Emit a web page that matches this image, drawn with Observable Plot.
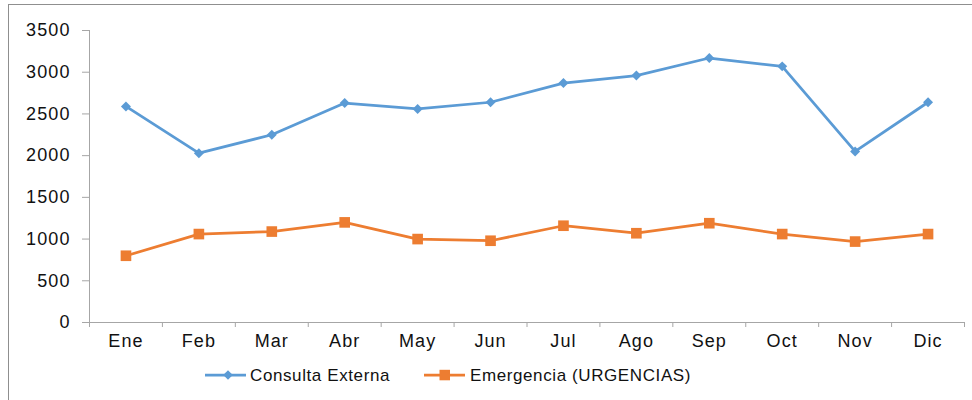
<!DOCTYPE html>
<html><head><meta charset="utf-8">
<script src="https://cdn.jsdelivr.net/npm/d3@7"></script>
<script src="https://cdn.jsdelivr.net/npm/@observablehq/plot@0.6"></script>
<style>
body{margin:0;background:#fff;font-family:"Liberation Sans",Arial,sans-serif;}
#wrap{position:relative;width:972px;height:400px;overflow:hidden;background:#fff;}
#frame{position:absolute;left:8px;top:4px;width:990px;height:420px;border-top:1.5px solid #8f8f8f;border-left:1.5px solid #8f8f8f;}
#chart{position:absolute;left:0;top:0;}
.lg{position:absolute;top:366px;font-size:17px;line-height:19px;letter-spacing:0.6px;color:#111;white-space:nowrap;}
.sw{position:absolute;top:368px;}
</style>
</head><body>
<div id="wrap"><div id="frame"></div><div id="chart"></div>
<svg class="sw" style="left:205px" width="42" height="14"><line x1="0" y1="7" x2="41" y2="7" stroke="#5B9BD5" stroke-width="2.75"/><path d="M23,2.2L27.8,7L23,11.8L18.2,7Z" fill="#5B9BD5"/></svg>
<div class="lg" style="left:250px">Consulta Externa</div>
<svg class="sw" style="left:424px" width="42" height="14"><line x1="0" y1="7" x2="41" y2="7" stroke="#ED7D31" stroke-width="2.75"/><rect x="15.5" y="1.8" width="10.5" height="10.5" fill="#ED7D31"/></svg>
<div class="lg" style="left:470px">Emergencia (URGENCIAS)</div>
</div>
<script>
const months = ["Ene","Feb","Mar","Abr","May","Jun","Jul","Ago","Sep","Oct","Nov","Dic"];
const consultaExterna = [2590,2030,2250,2630,2560,2640,2870,2960,3170,3070,2050,2640];
const emergencia = [800,1060,1090,1200,1000,980,1160,1070,1190,1060,970,1060];
const yTicks = [0,500,1000,1500,2000,2500,3000,3500];

const rows = months.map((m,i)=>({i, m, consulta: consultaExterna[i], emergencia: emergencia[i]}));
const axisColor = "#a6a6a6";

const chart = Plot.plot({
  width: 972,
  height: 355,
  marginTop: 30,
  marginBottom: 33,
  marginLeft: 89,
  marginRight: 8,
  style: {fontFamily: '"Liberation Sans", Arial, sans-serif', fontSize: "18px", color: "#111", background: "transparent", letterSpacing: "1.1px"},
  x: {domain: [-0.5, 11.5], axis: null},
  y: {domain: [0, 3500], axis: null},
  marks: [
    Plot.ruleY([0], {stroke: axisColor}),
    Plot.ruleX([-0.5], {stroke: axisColor}),
    Plot.axisY({ticks: yTicks, tickSize: 7, tickPadding: 12, tickFormat: d => String(d), stroke: axisColor, label: null}),
    Plot.axisX({ticks: d3.range(13).map(k => k - 0.5), tickSize: 5, tickFormat: () => "", stroke: axisColor, label: null}),
    Plot.axisX({ticks: d3.range(12), tickSize: 0, tickPadding: 12, tickFormat: k => months[k], label: null}),
    Plot.line(rows, {x: "i", y: "consulta", stroke: "#5B9BD5", strokeWidth: 2.75}),
    Plot.dot(rows, {x: "i", y: "consulta", symbol: "diamond2", r: 4.5, fill: "#5B9BD5", stroke: null}),
    Plot.line(rows, {x: "i", y: "emergencia", stroke: "#ED7D31", strokeWidth: 2.75}),
    Plot.dot(rows, {x: "i", y: "emergencia", symbol: "square", r: 6, fill: "#ED7D31", stroke: null})
  ]
});
document.getElementById("chart").appendChild(chart);
</script>
</body></html>
